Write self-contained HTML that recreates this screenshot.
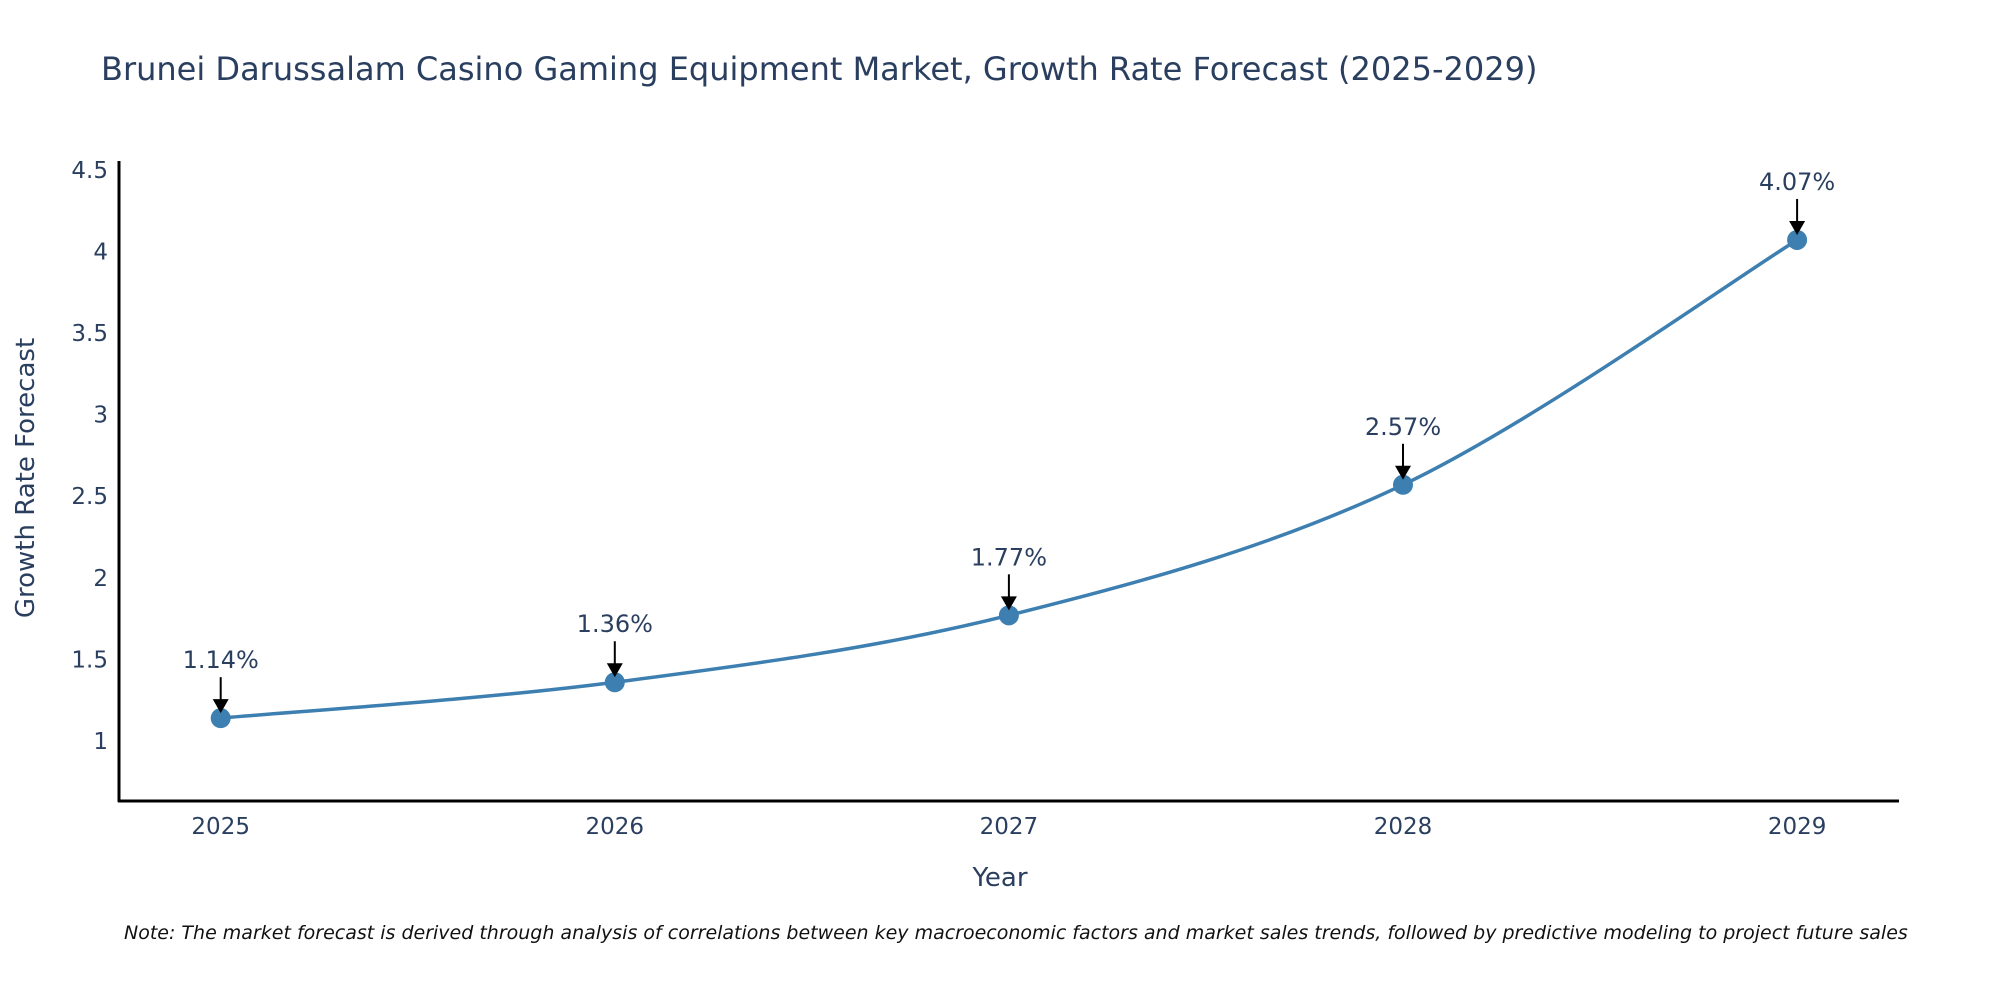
<!DOCTYPE html>
<html><head><meta charset="utf-8"><style>
body{margin:0;background:#fff;}
svg text{font-family:"DejaVu Sans","Liberation Sans",sans-serif;fill:#2a3f5f;}
</style></head><body>
<svg id="chart" width="2000" height="1000" viewBox="0 0 2000 1000">
<text x="101" y="80" font-size="32">Brunei Darussalam Casino Gaming Equipment Market, Growth Rate Forecast (2025-2029)</text>
<g id="yticks"></g>
<g id="xticks"></g>
<g id="series"></g>
<g id="annots"></g>
<line x1="119" y1="161" x2="119" y2="802" stroke="#000" stroke-width="3"/>
<line x1="118" y1="801" x2="1899" y2="801" stroke="#000" stroke-width="3"/>
<text x="1000" y="886" font-size="26" text-anchor="middle">Year</text>
<text transform="translate(34,478) rotate(-90)" font-size="26" text-anchor="middle">Growth Rate Forecast</text>
<text x="124" y="939" font-size="19" font-style="italic" style="fill:#111">Note: The market forecast is derived through analysis of correlations between key macroeconomic factors and market sales trends, followed by predictive modeling to project future sales</text>
</svg>
<script>
const years=[2025,2026,2027,2028,2029];
const values=[1.14,1.36,1.77,2.57,4.07];
const labels=["1.14%","1.36%","1.77%","2.57%","4.07%"];
const yTicks=[1,1.5,2,2.5,3,3.5,4,4.5];
const NS="http://www.w3.org/2000/svg";
const x=v=>220.7+(v-2025)*394.1;
const y=v=>741-(v-1)*163.2;
function mk(t,a,p){const e=document.createElementNS(NS,t);for(const k in a)e.setAttribute(k,a[k]);p.appendChild(e);return e;}
const yt=document.getElementById('yticks');
yTicks.forEach(t=>{const e=mk('text',{x:108,y:y(t)+8,'font-size':23,'text-anchor':'end'},yt);e.textContent=String(t);

});
const xt=document.getElementById('xticks');
years.forEach(t=>{const e=mk('text',{x:x(t),y:834,'font-size':23,'text-anchor':'middle'},xt);e.textContent=String(t);

});
const pts=years.map((yr,i)=>[x(yr),y(values[i])]);
let d='M'+pts[0][0]+','+pts[0][1];
for(let i=0;i<pts.length-1;i++){const p0=pts[Math.max(0,i-1)],p1=pts[i],p2=pts[i+1],p3=pts[Math.min(pts.length-1,i+2)];const s=1/6;
d+=' C'+(p1[0]+(p2[0]-p0[0])*s)+','+(p1[1]+(p2[1]-p0[1])*s)+' '+(p2[0]-(p3[0]-p1[0])*s)+','+(p2[1]-(p3[1]-p1[1])*s)+' '+p2[0]+','+p2[1];}
const sr=document.getElementById('series');
const ln=mk('path',{d:d,fill:'none',stroke:'#3d7fb1','stroke-width':3.5},sr);


const an=document.getElementById('annots');
pts.forEach((p,i)=>{const c=mk('circle',{cx:p[0],cy:p[1],r:10,fill:'#3d7fb1'},sr);


const l=mk('line',{x1:p[0],y1:p[1]-41,x2:p[0],y2:p[1]-16,stroke:'#000','stroke-width':2},an);


const h=mk('polygon',{points:(p[0]-8)+','+(p[1]-19)+' '+(p[0]+8)+','+(p[1]-19)+' '+p[0]+','+(p[1]-5),fill:'#000'},an);


const t=mk('text',{x:p[0],y:p[1]-50,'font-size':24,'text-anchor':'middle'},an);t.textContent=labels[i];

});
</script>
</body></html>
